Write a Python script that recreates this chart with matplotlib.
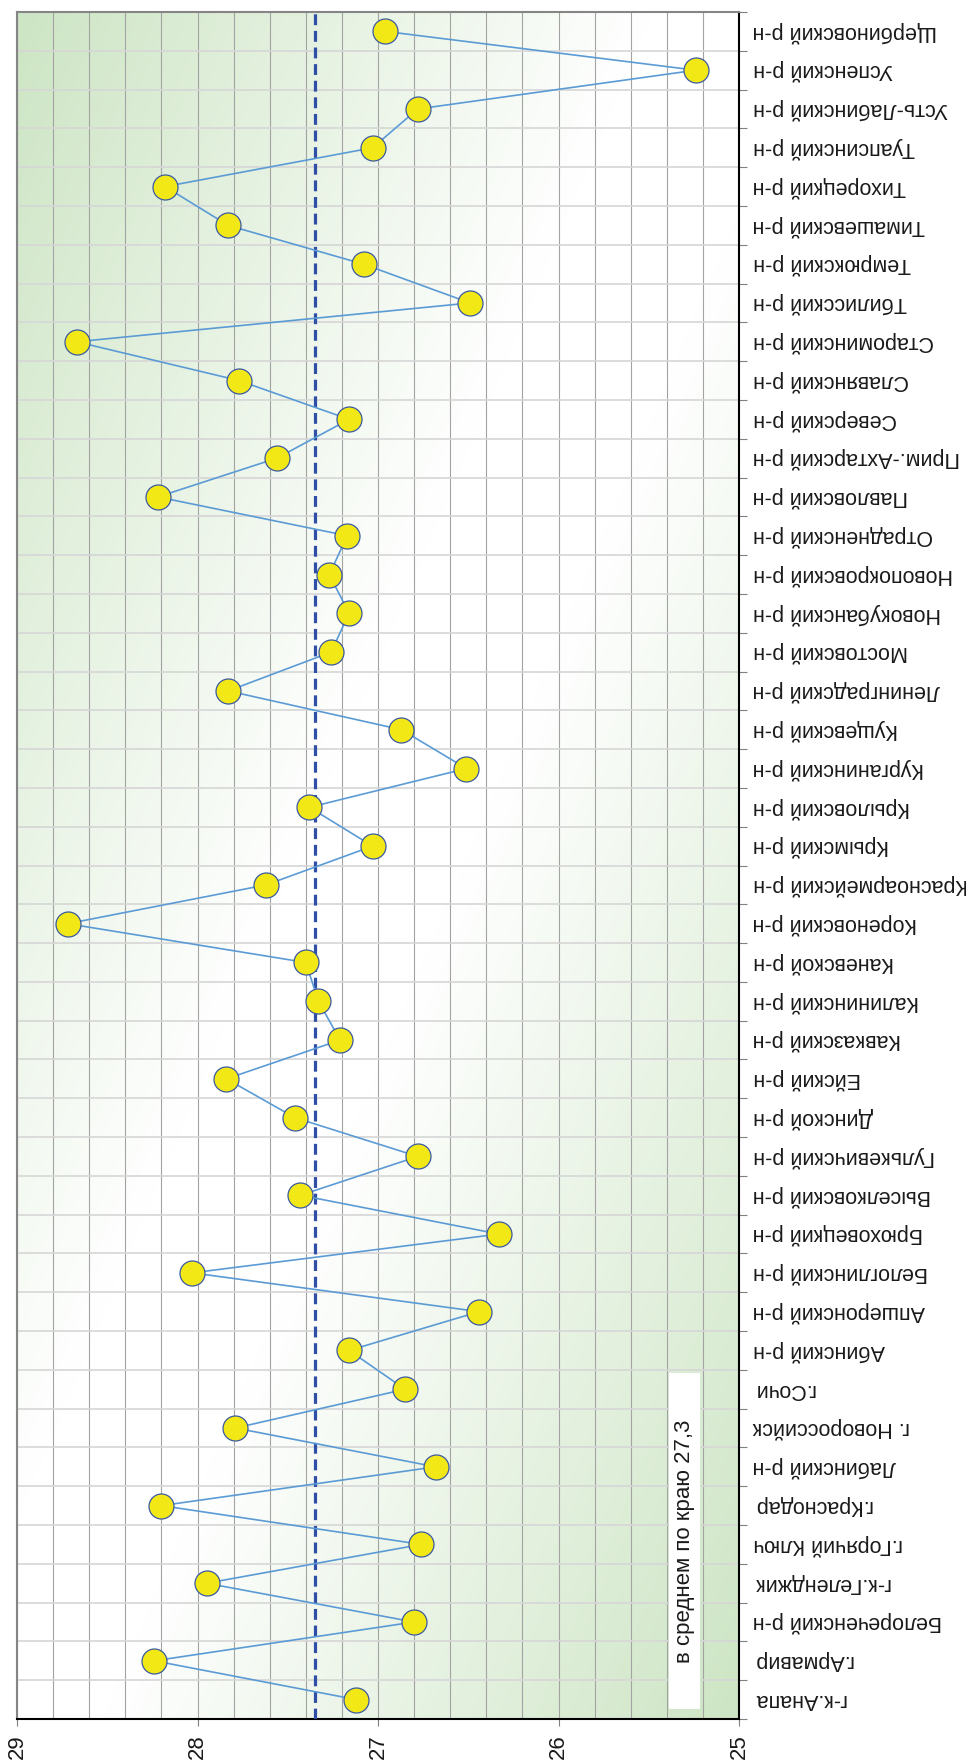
import numpy as np
import matplotlib
matplotlib.use("Agg")
import matplotlib.pyplot as plt
from matplotlib.patches import Rectangle
from matplotlib.ticker import MultipleLocator, FixedLocator

plt.rcParams['font.family'] = ['Liberation Sans', 'DejaVu Sans']

categories = [
    "г-к.Анапа", "г.Армавир", "Белореченский р-н", "г-к.Геленджик", "г.Горячий Ключ",
    "г.Краснодар", "Лабинский р-н", "г. Новороссийск", "г.Сочи", "Абинский р-н",
    "Апшеронский р-н", "Белоглинский р-н", "Брюховецкий р-н", "Выселковский р-н",
    "Гулькевичский р-н", "Динской р-н", "Ейский р-н", "Кавказский р-н", "Калининский р-н",
    "Каневской р-н", "Кореновский р-н", "Красноармейский р-н", "Крымский р-н",
    "Крыловский р-н", "Курганинский р-н", "Кущевский р-н", "Ленинградский р-н",
    "Мостовский р-н", "Новокубанский р-н", "Новопокровский р-н", "Отрадненский р-н",
    "Павловский р-н", "Прим.-Ахтарский р-н", "Северский р-н", "Славянский р-н",
    "Староминский р-н", "Тбилисский р-н", "Темрюкский р-н", "Тимашевский р-н",
    "Тихорецкий р-н", "Туапсинский р-н", "Усть-Лабинский р-н", "Успенский р-н",
    "Щербиновский р-н",
]
values = [
    27.12, 28.24, 26.80, 27.95, 26.76, 28.20, 26.68, 27.79, 26.85, 27.16,
    26.44, 28.03, 26.33, 27.43, 26.78, 27.46, 27.84, 27.21, 27.33, 27.40,
    28.72, 27.62, 27.03, 27.38, 26.51, 26.87, 27.83, 27.26, 27.16, 27.27,
    27.17, 28.22, 27.56, 27.16, 27.77, 28.67, 26.49, 27.08, 27.83, 28.18,
    27.03, 26.78, 25.24, 26.96,
]
average = 27.35
average_label = "в среднем по краю 27,3"
value_ticks = [25, 26, 27, 28, 29]

W, H = 966, 1764
fig = plt.figure(figsize=(W / 100, H / 100), dpi=100)
L, R, T, B = 17, 739, 12, 1719
ax = fig.add_axes([L / W, 1 - B / H, (R - L) / W, (B - T) / H])

# gradient background (green corners, white along anti-diagonal)
nh, nw = 600, 300
u = np.linspace(0, 1, nw)[None, :]
v = np.linspace(0, 1, nh)[:, None]
t = (u + v) / 2.0
s = np.clip((np.abs(t - 0.5) - 0.06) / 0.44, 0, 1)
green = np.array([205, 229, 196]) / 255.0
white = np.array([1.0, 1.0, 1.0])
img = white[None, None, :] * (1 - s[..., None]) + green[None, None, :] * s[..., None]
ax.imshow(img, extent=(0, 1, 0, 1), transform=ax.transAxes, aspect='auto',
          origin='upper', zorder=0, interpolation='bilinear')

n = len(categories)
y = np.arange(n)

ax.set_xlim(29, 25)
ax.set_ylim(-0.5, n - 0.5)

# grid
ax.xaxis.set_major_locator(FixedLocator(value_ticks))
ax.xaxis.set_minor_locator(MultipleLocator(0.2))
ax.yaxis.set_major_locator(FixedLocator(y))
ax.yaxis.set_minor_locator(FixedLocator(np.arange(-0.5, n, 1.0)))
ax.grid(which='minor', axis='x', color='#a3a3a3', lw=0.8, zorder=1)
ax.grid(which='major', axis='x', color='#a3a3a3', lw=0.8, zorder=1)
ax.grid(which='minor', axis='y', color='#d6d6d6', lw=1.2, zorder=1)
ax.set_axisbelow(True)

# average line
ax.axvline(average, color='#2f4ea5', lw=2.3, dashes=(3.4, 1.8), zorder=3)

# series
ax.plot(values, y, color='#5b9bd5', lw=1.2, zorder=4,
        marker='o', markersize=18, markerfacecolor='#f2e816',
        markeredgecolor='#3b5aa0', markeredgewidth=0.9)

# category labels on the right, upside down
ax.yaxis.tick_right()
ax.set_yticklabels(categories, rotation=180, ha='left', va='center',
                   fontsize=15.5, color='#1a1a1a')
ax.tick_params(axis='y', which='major', length=0, pad=10)
ax.tick_params(axis='y', which='minor', length=6, width=0.8, color='#808080', direction='out')

# value labels at bottom
ax.set_xticklabels([str(v_) for v_ in value_ticks], rotation=90, fontsize=16, color='#1a1a1a')
ax.tick_params(axis='x', which='major', length=5, width=0.8, color='#808080', pad=6)
ax.tick_params(axis='x', which='minor', length=0)

for side in ['top', 'left']:
    ax.spines[side].set_color('#858585')
    ax.spines[side].set_linewidth(1.5)
for side in ['bottom', 'right']:
    ax.spines[side].set_color('#000000')
    ax.spines[side].set_linewidth(1.5)

# annotation box
rx0, rx1, ry0, ry1 = 669, 700, 1373, 1709
fig.patches.append(Rectangle((rx0 / W, 1 - ry1 / H), (rx1 - rx0) / W, (ry1 - ry0) / H,
                             transform=fig.transFigure, facecolor='white',
                             edgecolor='none', zorder=5))
fig.text((rx0 + rx1) / 2 / W, 1 - (ry0 + ry1) / 2 / H, average_label, rotation=90,
         ha='center', va='center', fontsize=16, color='#1a1a1a', zorder=6)

fig.savefig('out.png', dpi=100, facecolor='white')
